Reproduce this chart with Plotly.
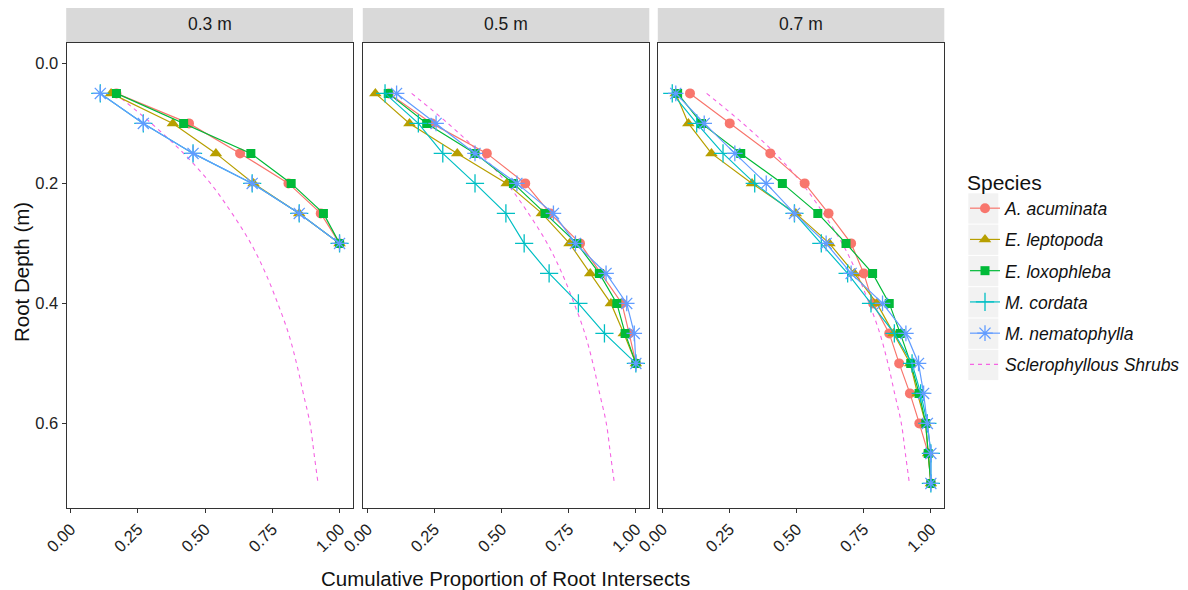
import plotly.graph_objects as go

# ---------------- data ----------------
panels = ["0.3 m", "0.5 m", "0.7 m"]
species = ["A. acuminata", "E. leptopoda", "E. loxophleba", "M. cordata", "M. nematophylla"]
shrub_name = "Sclerophyllous Shrubs"

depth_03 = [0.05, 0.10, 0.15, 0.20, 0.25, 0.30]
depth_05 = [0.05, 0.10, 0.15, 0.20, 0.25, 0.30, 0.35, 0.40, 0.45, 0.50]
depth_07 = [0.05, 0.10, 0.15, 0.20, 0.25, 0.30, 0.35, 0.40, 0.45, 0.50, 0.55, 0.60, 0.65, 0.70]

acum_03 = [0.17, 0.44, 0.63, 0.81, 0.93, 1.0]
lept_03 = [0.15, 0.38, 0.54, 0.68, 0.85, 1.0]
loxo_03 = [0.17, 0.42, 0.67, 0.82, 0.94, 1.0]
cord_03 = [0.11, 0.27, 0.455, 0.675, 0.85, 1.0]
nema_03 = [0.11, 0.27, 0.455, 0.675, 0.85, 1.0]

acum_05 = [0.08, 0.24, 0.445, 0.588, 0.681, 0.792, 0.870, 0.948, 0.975, 1.0]
lept_05 = [0.03, 0.157, 0.335, 0.519, 0.650, 0.753, 0.830, 0.907, 0.955, 1.0]
loxo_05 = [0.078, 0.221, 0.401, 0.544, 0.662, 0.780, 0.864, 0.929, 0.960, 1.0]
cord_05 = [0.066, 0.190, 0.281, 0.401, 0.516, 0.584, 0.677, 0.786, 0.883, 1.0]
nema_05 = [0.109, 0.256, 0.401, 0.557, 0.693, 0.775, 0.889, 0.966, 0.994, 1.0]

acum_07 = [0.103, 0.251, 0.402, 0.530, 0.619, 0.703, 0.750, 0.785, 0.845, 0.882, 0.922, 0.957, 0.99, 1.0]
lept_07 = [0.05, 0.097, 0.183, 0.334, 0.497, 0.622, 0.715, 0.799, 0.861, 0.923, 0.950, 0.980, 0.99, 1.0]
loxo_07 = [0.057, 0.146, 0.292, 0.447, 0.579, 0.684, 0.783, 0.845, 0.886, 0.925, 0.956, 0.981, 0.99, 1.0]
cord_07 = [0.037, 0.128, 0.226, 0.344, 0.492, 0.592, 0.690, 0.777, 0.864, 0.930, 0.962, 0.987, 1.0, 1.0]
nema_07 = [0.050, 0.156, 0.270, 0.387, 0.492, 0.610, 0.703, 0.820, 0.907, 0.954, 0.973, 0.987, 1.0, 1.0]

shrub_depth = [0.05, 0.10, 0.15, 0.20, 0.25, 0.30, 0.35, 0.40, 0.45, 0.50, 0.55, 0.60, 0.65, 0.70]
shrub_prop = [0.165, 0.30, 0.42, 0.52, 0.60, 0.67, 0.725, 0.77, 0.81, 0.84, 0.865, 0.89, 0.905, 0.92]

x_ticks = [0.0, 0.25, 0.5, 0.75, 1.0]
x_tick_labels = ["0.00", "0.25", "0.50", "0.75", "1.00"]
y_ticks = [0.0, 0.2, 0.4, 0.6]
y_tick_labels = ["0.0", "0.2", "0.4", "0.6"]

# ---------------- styles ----------------
colors = ["#F8766D", "#B79F00", "#00BA38", "#00BFC4", "#619CFF"]
shrub_color = "#F564E3"
symbols = ["circle", "triangle-up", "square", "cross-thin-open", "asterisk-open"]
sizes = [10, 11, 9, 13, 13]

depths = [depth_03, depth_05, depth_07]
series = [
    [acum_03, lept_03, loxo_03, cord_03, nema_03],
    [acum_05, lept_05, loxo_05, cord_05, nema_05],
    [acum_07, lept_07, loxo_07, cord_07, nema_07],
]

FONT = "Liberation Sans, Arial, sans-serif"
OFF = 8  # page body margin offset in the browser window
W, H = 1188 - OFF, 590 - OFF
PL, PR, PT, PB = 66, 945, 43, 508
ML, MR, MT, MB = PL - OFF, (W + OFF) - PR, PT - OFF, (H + OFF) - PB
PW = PR - PL
PH = PB - PT

def px_to_xp(px):
    return (px - PL) / PW

def px_to_yp(py):
    return (PB - py) / PH

domains = [
    [px_to_xp(66.7), px_to_xp(353)],
    [px_to_xp(363.3), px_to_xp(649.3)],
    [px_to_xp(658.3), px_to_xp(944.3)],
]

fig = go.Figure()

for p in range(3):
    xa = "x" if p == 0 else f"x{p+1}"
    ya = "y" if p == 0 else f"y{p+1}"
    fig.add_trace(go.Scatter(
        x=shrub_prop, y=shrub_depth, mode="lines", name=shrub_name,
        line=dict(color=shrub_color, width=1.1, dash="4px,4px", shape="spline"),
        xaxis=xa, yaxis=ya, legendgroup=shrub_name, legendrank=6,
        showlegend=(p == 0), hoverinfo="skip"))
    for i, sp in enumerate(species):
        mk = dict(symbol=symbols[i], size=sizes[i], color=colors[i])
        if "open" in symbols[i]:
            mk["line"] = dict(color=colors[i], width=1.3)
        fig.add_trace(go.Scatter(
            x=series[p][i], y=depths[p], mode="lines+markers", name=sp,
            line=dict(color=colors[i], width=1.2), marker=mk,
            xaxis=xa, yaxis=ya, legendgroup=sp, legendrank=i + 1,
            showlegend=(p == 0)))

axis_common = dict(showgrid=False, zeroline=False, showline=True, mirror=True,
                   linecolor="#333333", linewidth=1.2, ticks="outside", ticklen=4,
                   tickcolor="#333333", tickwidth=1, automargin=False,
                   tickfont=dict(family=FONT, size=16.5, color="#222222"))

layout = dict(
    width=W, height=H, plot_bgcolor="white", paper_bgcolor="white",
    margin=dict(l=ML, r=MR, t=MT, b=MB, autoexpand=False),
    font=dict(family=FONT, color="#222222"),
)
for p in range(3):
    xk = "xaxis" if p == 0 else f"xaxis{p+1}"
    yk = "yaxis" if p == 0 else f"yaxis{p+1}"
    ya = "y" if p == 0 else f"y{p+1}"
    xa = "x" if p == 0 else f"x{p+1}"
    layout[xk] = dict(axis_common, domain=domains[p], range=[-0.015, 1.05],
                      tickvals=x_ticks, ticktext=x_tick_labels, tickangle=-45,
                      anchor=ya)
    yd = dict(axis_common, domain=[0, 1], range=[0.741, -0.034], anchor=xa,
              tickvals=y_ticks, ticktext=y_tick_labels)
    if p > 0:
        yd.update(showticklabels=False, ticks="")
    layout[yk] = yd

fig.update_layout(**layout)

shapes = []
annotations = []
for p in range(3):
    shapes.append(dict(type="rect", xref="paper", yref="paper",
                       x0=domains[p][0] - 0.5 / PW, x1=domains[p][1],
                       y0=px_to_yp(42), y1=px_to_yp(7),
                       fillcolor="#D9D9D9", line=dict(width=0), layer="below"))
    annotations.append(dict(text=panels[p], xref="paper", yref="paper",
                            x=(domains[p][0] + domains[p][1]) / 2, y=px_to_yp(24.5),
                            showarrow=False, xanchor="center", yanchor="middle",
                            font=dict(family=FONT, size=17.5, color="#1a1a1a")))

annotations.append(dict(text="Cumulative Proportion of Root Intersects", xref="paper", yref="paper",
                        x=px_to_xp(505), y=px_to_yp(578), showarrow=False,
                        xanchor="center", yanchor="middle",
                        font=dict(family=FONT, size=20.5, color="#111111")))
annotations.append(dict(text="Root Depth (m)", xref="paper", yref="paper",
                        x=px_to_xp(21), y=px_to_yp(272), showarrow=False, textangle=-90,
                        xanchor="center", yanchor="middle",
                        font=dict(family=FONT, size=20.5, color="#111111")))

key_top = 193.3
key_h = 31.3
for k in range(6):
    shapes.append(dict(type="rect", xref="paper", yref="paper",
                       x0=px_to_xp(968.3), x1=px_to_xp(998.3),
                       y0=px_to_yp(key_top + k * key_h + key_h - 1), y1=px_to_yp(key_top + k * key_h),
                       fillcolor="#F2F2F2", line=dict(width=0), layer="below"))

fig.update_layout(
    shapes=shapes, annotations=annotations,
    legend=dict(
        x=px_to_xp(965), y=px_to_yp(163), xanchor="left", yanchor="top",
        bgcolor="rgba(0,0,0,0)", borderwidth=0,
        title=dict(text="Species", font=dict(family=FONT, size=21, color="#111111", style="normal")),
        font=dict(family=FONT, size=17.5, color="#111111", style="italic"),
        tracegroupgap=5.5, itemwidth=30,
    ),
)

fig.write_html("out.html")
